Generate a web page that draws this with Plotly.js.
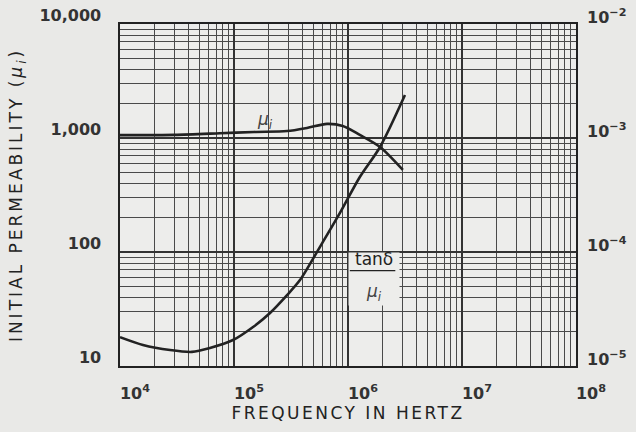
<!DOCTYPE html>
<html>
<head>
<meta charset="utf-8">
<script src="https://cdn.plot.ly/plotly-3.0.1.min.js"></script>
<style>
  html, body { margin: 0; padding: 0; background: #e9e9e7; }
  #chart { width: 636px; height: 432px; }
  .xtitle { letter-spacing: 2.5px; }
  .ytitle { letter-spacing: 3px; }
</style>
</head>
<body>
<div id="chart"></div>
<script>
// Initial permeability curve (left axis)
const freqMu = [1e4, 3e4, 7.5e4, 1.5e5, 2.92e5, 4.37e5, 6.55e5, 9.0e5, 1.27e6, 1.91e6, 3.03e6];
const mu     = [1060, 1065, 1100, 1130, 1150, 1225, 1330, 1275, 1065, 835, 525];

// Loss factor tan(delta)/mu_i curve (right axis)
const freqTan = [1e4, 1.59e4, 2.75e4, 4.28e4, 6.15e4, 9.8e4, 1.47e5, 2.07e5, 2.92e5, 3.79e5, 5.68e5, 8.5e5, 1.27e6, 1.91e6, 3.16e6];
const tanOverMu = [1.79e-5, 1.53e-5, 1.38e-5, 1.33e-5, 1.44e-5, 1.69e-5, 2.2e-5, 2.92e-5, 4.19e-5, 5.67e-5, 1.11e-4, 2.2e-4, 4.55e-4, 8.34e-4, 2.38e-3];

// Tick labels
const xTickVals = [1e4, 1e5, 1e6, 1e7, 1e8];
const xTickText = ['10<sup>4</sup>', '10<sup>5</sup>', '10<sup>6</sup>', '10<sup>7</sup>', '10<sup>8</sup>'];
const yTickVals = [10, 100, 1000, 10000];
const yTickText = ['10', '100', '1,000', '10,000'];
const y2TickVals = [1e-5, 1e-4, 1e-3, 1e-2];
const y2TickText = ['10<sup>−5</sup>', '10<sup>−4</sup>', '10<sup>−3</sup>', '10<sup>−2</sup>'];

const ink = '#222222';
const labelInk = '#333333';
const gridInk = '#4a4a4a';
const bg = '#ededeb';
const tickFont = {family: 'DejaVu Sans', size: 16, color: labelInk, weight: 'bold'};

const traces = [
  {
    x: freqMu, y: mu, type: 'scatter', mode: 'lines', name: 'μi',
    line: {color: ink, width: 2.6, shape: 'spline', smoothing: 0.8},
    xaxis: 'x', yaxis: 'y', hoverinfo: 'x+y'
  },
  {
    x: freqTan, y: tanOverMu, type: 'scatter', mode: 'lines', name: 'tanδ/μi',
    line: {color: ink, width: 2.6, shape: 'spline', smoothing: 0.8},
    xaxis: 'x', yaxis: 'y2', hoverinfo: 'x+y'
  }
];

const layout = {
  width: 636, height: 432,
  margin: {l: 120, r: 60, t: 24, b: 66},
  paper_bgcolor: '#e9e9e7',
  plot_bgcolor: bg,
  showlegend: false,
  xaxis: {
    type: 'log', range: [4, 8], autorange: false,
    tickvals: xTickVals, ticktext: xTickText,
    tickfont: tickFont, ticks: '', ticklabelshift: 15, ticklabelstandoff: 12,
    showgrid: true, gridcolor: '#333', gridwidth: 1.6,
    minor: {dtick: 'D1', showgrid: true, gridcolor: gridInk, gridwidth: 1, ticks: ''},
    showline: true, mirror: true, linecolor: ink, linewidth: 1.6,
    zeroline: false,
    title: {text: 'FREQUENCY IN HERTZ', font: {family: 'DejaVu Sans', size: 17, color: ink}, standoff: 4},
    automargin: false
  },
  yaxis: {
    type: 'log', range: [1, 4], autorange: false,
    tickvals: yTickVals, ticktext: yTickText,
    tickfont: tickFont, ticks: '', ticklabelshift: -9, ticklabelstandoff: 14,
    showgrid: true, gridcolor: '#333', gridwidth: 1.6,
    minor: {dtick: 'D1', showgrid: true, gridcolor: gridInk, gridwidth: 1, ticks: ''},
    showline: true, mirror: true, linecolor: ink, linewidth: 1.6,
    zeroline: false,
    title: {text: 'INITIAL PERMEABILITY (<i>μ<sub>i</sub></i>)', font: {family: 'DejaVu Sans', size: 17, color: ink}, standoff: 12},
    automargin: false
  },
  yaxis2: {
    type: 'log', range: [-5, -2], autorange: false,
    overlaying: 'y', side: 'right', anchor: 'x',
    tickvals: y2TickVals, ticktext: y2TickText,
    tickfont: tickFont, ticks: '', ticklabelshift: -7, ticklabelstandoff: 10,
    showgrid: false, zeroline: false, showline: false,
    automargin: false
  },
  annotations: [
    {
      xref: 'x', yref: 'y', x: Math.log10(1.87e5), y: Math.log10(1410),
      xanchor: 'center', yanchor: 'middle',
      text: '<i>μ<sub>i</sub></i>', showarrow: false,
      font: {family: 'DejaVu Sans', size: 17, color: '#444'}
    },
    // blank background box that interrupts the grid behind the fraction label
    {
      xref: 'x', yref: 'paper', x: Math.log10(1.69e6), y: 0.255,
      xanchor: 'center', yanchor: 'middle',
      text: ' ', showarrow: false, width: 50, height: 52,
      bgcolor: bg, borderpad: 0
    },
    {
      xref: 'x', yref: 'paper', x: Math.log10(1.69e6), y: 0.313,
      xanchor: 'center', yanchor: 'middle',
      text: 'tanδ', showarrow: false,
      font: {family: 'DejaVu Sans', size: 17, color: ink}
    },
    {
      xref: 'x', yref: 'paper', x: Math.log10(1.69e6), y: 0.215,
      xanchor: 'center', yanchor: 'middle',
      text: '<i>μ<sub>i</sub></i>', showarrow: false,
      font: {family: 'DejaVu Sans', size: 17, color: '#444'}
    },
    {
      xref: 'x', yref: 'paper', x: Math.log10(2.6e6), y: 0.279,
      ax: -47, ay: 0, text: '', showarrow: true, arrowhead: 0,
      arrowwidth: 1.4, arrowcolor: ink, standoff: 0, startstandoff: 0
    }
  ]
};

Plotly.newPlot('chart', traces, layout, {displayModeBar: false, staticPlot: true});
</script>
</body>
</html>
